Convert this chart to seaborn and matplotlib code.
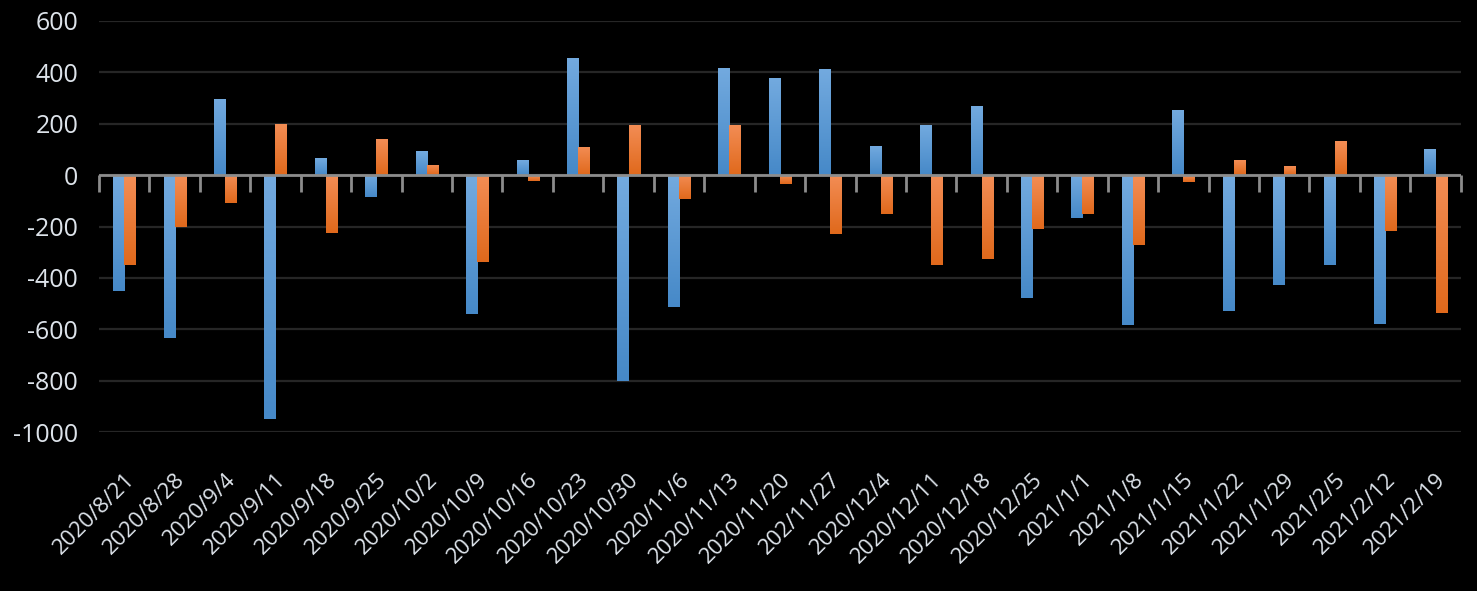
import numpy as np
import pandas as pd
import matplotlib
matplotlib.use("Agg")
import matplotlib.pyplot as plt
import seaborn as sns
from matplotlib.colors import LinearSegmentedColormap

dates = ["2020/8/21", "2020/8/28", "2020/9/4", "2020/9/11", "2020/9/18", "2020/9/25",
         "2020/10/2", "2020/10/9", "2020/10/16", "2020/10/23", "2020/10/30", "2020/11/6",
         "2020/11/13", "2020/11/20", "202/11/27", "2020/12/4", "2020/12/11", "2020/12/18",
         "2020/12/25", "2021/1/1", "2021/1/8", "2021/1/15", "2021/1/22", "2021/1/29",
         "2021/2/5", "2021/2/12", "2021/2/19"]
series_a = [-452, -635, 296, -950, 66, -86, 93, -541, 58, 456, -802, -514, 417, 378, 413,
            113, 195, 269, -479, -168, -584, 253, -530, -428, -351, -580, 101]
series_b = [-350, -203, -109, 200, -226, 140, 39, -339, -23, 109, 195, -94, 195, -35, -230,
            -152, -351, -327, -210, -152, -273, -27, 58, 35, 132, -218, -538]
series_names = ["A", "B"]
yticks = [-1000, -800, -600, -400, -200, 0, 200, 400, 600]

df = pd.DataFrame({
    "date": dates * 2,
    "value": series_a + series_b,
    "series": [series_names[0]] * len(dates) + [series_names[1]] * len(dates),
})

sns.set_theme(style="dark")
plt.rcParams['font.family'] = ['Open Sans', 'DejaVu Sans']

fig = plt.figure(figsize=(14.77, 5.91), dpi=100, facecolor="black")
ax = fig.add_axes([0.067, 0.269, 0.922, 0.6955], facecolor="black")

blue = "#5B9BD5"
orange = "#ED7D31"
sns.barplot(data=df, x="date", y="value", hue="series", order=dates,
            hue_order=series_names, palette=[blue, orange], width=0.44,
            dodge=True, ax=ax, legend=False, saturation=1, zorder=3)

# gradient fill for bars (lighter at top, darker at bottom)
cmaps = {
    blue: LinearSegmentedColormap.from_list("b", ["#4689C8", "#73AADF"]),
    orange: LinearSegmentedColormap.from_list("o", ["#E0691C", "#F38D55"]),
}
grad = np.linspace(0, 1, 64).reshape(-1, 1)
for i, cont in enumerate(ax.containers):
    cm = cmaps[[blue, orange][i]]
    for p in cont.patches:
        x0, y0 = p.get_x(), p.get_y()
        w, h = p.get_width(), p.get_height()
        lo, hi = min(y0, y0 + h), max(y0, y0 + h)
        im = ax.imshow(grad, extent=[x0, x0 + w, lo, hi], origin="lower",
                       cmap=cm, aspect="auto", zorder=3.5, interpolation="bicubic")
        im.set_clip_path(p)
        p.set_edgecolor("none")

n = len(dates)
ax.set_xlim(-0.5, n - 0.5)
ax.set_ylim(-1000, 600)
ax.set_yticks(yticks)
ax.set_yticklabels([str(t) for t in yticks])
ax.yaxis.grid(True, color="#262626", linewidth=1.6, zorder=0)
ax.xaxis.grid(False)
for s in ax.spines.values():
    s.set_visible(False)

ax.axhline(0, color="#8C8C8C", linewidth=2, zorder=4)

txtcol = "#DDE3EA"
ax.tick_params(axis="y", length=0, pad=15, labelsize=18, labelcolor=txtcol)
ax.tick_params(axis="x", length=0, pad=27, labelsize=16, labelcolor=txtcol)
plt.setp(ax.get_xticklabels(), rotation=45, ha="right", rotation_mode="anchor")
ax.set_xlabel("")
ax.set_ylabel("")

# category boundary tick marks hanging below the zero line
zero_frac = (0 - (-1000)) / (600 - (-1000))
sec = ax.secondary_xaxis(zero_frac)
sec.set_xticks(np.arange(-0.5, n, 1.0))
sec.set_xticklabels([])
sec.tick_params(axis="x", direction="in", length=12, width=2, color="#8C8C8C")
sec.spines["bottom"].set_visible(False)
sec.spines["top"].set_visible(False)

fig.savefig("out.png", dpi=100, facecolor="black")
